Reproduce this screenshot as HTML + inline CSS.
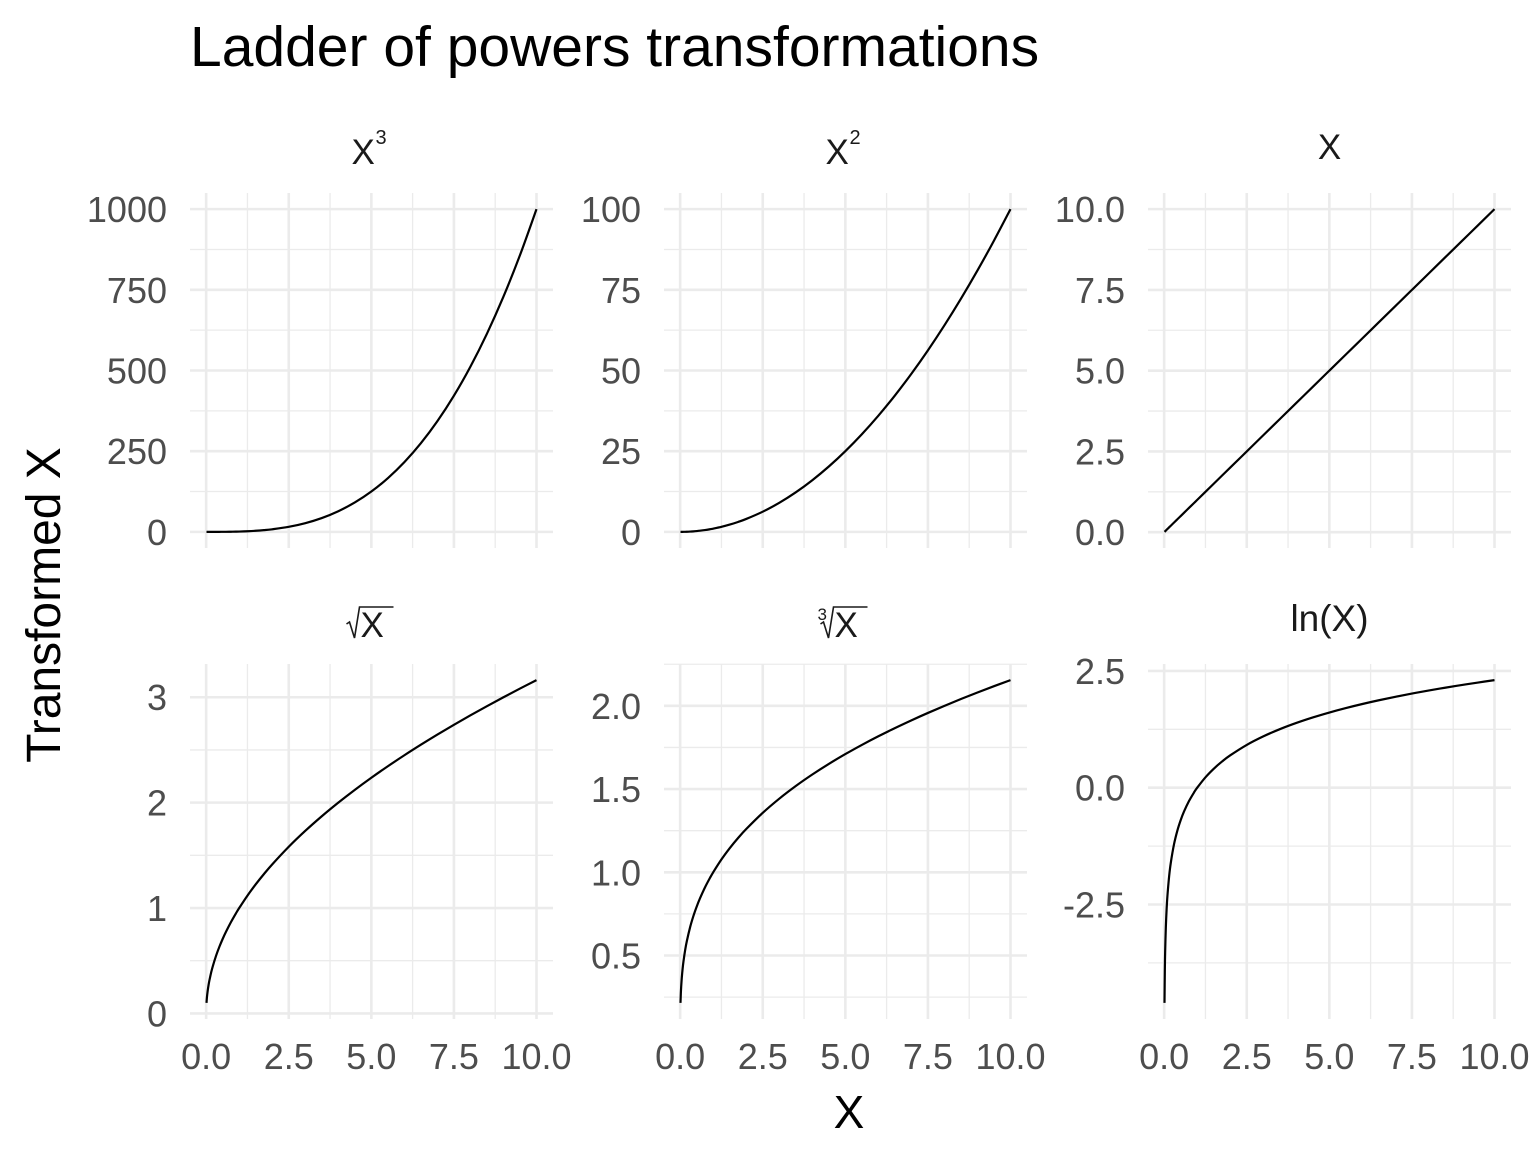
<!DOCTYPE html>
<html><head><meta charset="utf-8">
<style>
html,body{margin:0;padding:0;background:#fff;}
svg{display:block;font-family:"Liberation Sans",Arial,sans-serif;}
</style></head>
<body>
<svg id="chart" width="1536" height="1152" viewBox="0 0 1536 1152">
<text x="190" y="66" font-size="57" fill="#000">Ladder of powers transformations</text>
<text transform="translate(60,605) rotate(-90)" text-anchor="middle" font-size="48" fill="#000">Transformed X</text>
<text x="849" y="1128" text-anchor="middle" font-size="46" fill="#000">X</text>
<g id="panels"></g>
</svg>
<script>
const xVals = [0.01,0.02,0.03,0.05,0.075,0.1,0.15,0.2,0.3,0.4,0.5,0.6,0.75,0.9,1,1.25,1.5,1.75,2,2.5,3,3.5,4,4.5,5,5.5,6,6.5,7,7.5,8,8.5,9,9.5,10];
const yCube = [0.000001,0.000008,0.000027,0.000125,0.000422,0.001,0.003375,0.008,0.027,0.064,0.125,0.216,0.4219,0.729,1,1.953,3.375,5.359,8,15.625,27,42.875,64,91.125,125,166.375,216,274.625,343,421.875,512,614.125,729,857.375,1000];
const ySquare = [0.0001,0.0004,0.0009,0.0025,0.005625,0.01,0.0225,0.04,0.09,0.16,0.25,0.36,0.5625,0.81,1,1.5625,2.25,3.0625,4,6.25,9,12.25,16,20.25,25,30.25,36,42.25,49,56.25,64,72.25,81,90.25,100];
const yIdentity = [0.01,0.02,0.03,0.05,0.075,0.1,0.15,0.2,0.3,0.4,0.5,0.6,0.75,0.9,1,1.25,1.5,1.75,2,2.5,3,3.5,4,4.5,5,5.5,6,6.5,7,7.5,8,8.5,9,9.5,10];
const ySqrt = [0.1,0.1414,0.1732,0.2236,0.2739,0.3162,0.3873,0.4472,0.5477,0.6325,0.7071,0.7746,0.8660,0.9487,1,1.1180,1.2247,1.3229,1.4142,1.5811,1.7321,1.8708,2,2.1213,2.2361,2.3452,2.4495,2.5495,2.6458,2.7386,2.8284,2.9155,3,3.0822,3.1623];
const yCbrt = [0.2154,0.2714,0.3107,0.3684,0.4217,0.4642,0.5313,0.5848,0.6694,0.7368,0.7937,0.8434,0.9086,0.9655,1,1.0772,1.1447,1.2051,1.2599,1.3572,1.4422,1.5183,1.5874,1.6510,1.7100,1.7652,1.8171,1.8663,1.9129,1.9574,2,2.0408,2.0801,2.1179,2.1544];
const yLn = [-4.6052,-3.9120,-3.5066,-2.9957,-2.5903,-2.3026,-1.8971,-1.6094,-1.2040,-0.9163,-0.6931,-0.5108,-0.2877,-0.1054,0,0.2231,0.4055,0.5596,0.6931,0.9163,1.0986,1.2528,1.3863,1.5041,1.6094,1.7047,1.7918,1.8718,1.9459,2.0149,2.0794,2.1401,2.1972,2.2513,2.3026];
const xTicks = [0,2.5,5,7.5,10];
const xTickLabels = ["0.0","2.5","5.0","7.5","10.0"];
const yTicksCube = [0,250,500,750,1000];
const yTicksSquare = [0,25,50,75,100];
const yTicksIdentity = [0,2.5,5,7.5,10];
const yLabelsIdentity = ["0.0","2.5","5.0","7.5","10.0"];
const yTicksSqrt = [0,1,2,3];
const yTicksCbrt = [0.5,1,1.5,2];
const yLabelsCbrt = ["0.5","1.0","1.5","2.0"];
const yTicksLn = [-2.5,0,2.5];
const yLabelsLn = ["-2.5","0.0","2.5"];

const NS="http://www.w3.org/2000/svg";
const root=document.getElementById('panels');
function mk(tag,attrs,parent){const e=document.createElementNS(NS,tag);for(const k in attrs)e.setAttribute(k,attrs[k]);(parent||root).appendChild(e);return e;}

const panels=[
 {id:'cube',ys:yCube,ticks:yTicksCube,labels:yTicksCube.map(String),col:0,row:0,strip:'cube'},
 {id:'square',ys:ySquare,ticks:yTicksSquare,labels:yTicksSquare.map(String),col:1,row:0,strip:'square'},
 {id:'identity',ys:yIdentity,ticks:yTicksIdentity,labels:yLabelsIdentity,col:2,row:0,strip:'x'},
 {id:'sqrt',ys:ySqrt,ticks:yTicksSqrt,labels:yTicksSqrt.map(String),col:0,row:1,strip:'sqrt'},
 {id:'cbrt',ys:yCbrt,ticks:yTicksCbrt,labels:yLabelsCbrt,col:1,row:1,strip:'cbrt'},
 {id:'ln',ys:yLn,ticks:yTicksLn,labels:yLabelsLn,col:2,row:1,strip:'ln'}
];
const colLeft=[190,664,1148], pW=363;
const rowTop=[193,664], pH=355;
const TF=36;

panels.forEach(p=>{
 const L=colLeft[p.col], T=rowTop[p.row], R=L+pW, B=T+pH;
 const g=mk('g',{});
 
 
 const xmin=Math.min(...xVals), xmax=Math.max(...xVals), xe=(xmax-xmin)*0.05;
 const X0=xmin-xe, X1=xmax+xe;
 const ymin=Math.min(...p.ys), ymax=Math.max(...p.ys), ye=(ymax-ymin)*0.05;
 const Y0=ymin-ye, Y1=ymax+ye;
 const sx=v=>L+(v-X0)/(X1-X0)*pW;
 const sy=v=>B-(v-Y0)/(Y1-Y0)*pH;
 const xs=xTicks[1]-xTicks[0];
 for(let v=xTicks[0]-xs/2; v<=X1; v+=xs){ if(v>=X0){const l=mk('line',{x1:sx(v),x2:sx(v),y1:T,y2:B,stroke:'#ebebeb','stroke-width':1.3},g);}}
 const ys=p.ticks[1]-p.ticks[0];
 for(let v=p.ticks[0]-ys*10-ys/2; v<=Y1; v+=ys){ if(v>=Y0){const l=mk('line',{x1:L,x2:R,y1:sy(v),y2:sy(v),stroke:'#ebebeb','stroke-width':1.3},g);}}
 xTicks.forEach((v,i)=>{
  const l=mk('line',{x1:sx(v),x2:sx(v),y1:T,y2:B,stroke:'#ebebeb','stroke-width':2.6},g);
  
  
  if(p.row===1){const t=mk('text',{x:sx(v),y:1069,'text-anchor':'middle','font-size':TF,fill:'#4d4d4d'},g);t.textContent=xTickLabels[i];
   
   }
 });
 p.ticks.forEach((v,i)=>{
  const l=mk('line',{x1:L,x2:R,y1:sy(v),y2:sy(v),stroke:'#ebebeb','stroke-width':2.6},g);
  
  
  const t=mk('text',{x:L-23,y:sy(v)+13,'text-anchor':'end','font-size':TF,fill:'#4d4d4d'},g);t.textContent=p.labels[i];
  
  
 });
 const pts=xVals.map((x,i)=>[sx(x),sy(p.ys[i])]);
 let d='M'+pts[0][0].toFixed(2)+','+pts[0][1].toFixed(2);
 for(let i=0;i<pts.length-1;i++){
  const p0=pts[Math.max(0,i-1)],p1=pts[i],p2=pts[i+1],p3=pts[Math.min(pts.length-1,i+2)];
  const c1=[p1[0]+(p2[0]-p0[0])/6,p1[1]+(p2[1]-p0[1])/6];
  const c2=[p2[0]-(p3[0]-p1[0])/6,p2[1]-(p3[1]-p1[1])/6];
  d+=`C${c1[0].toFixed(2)},${c1[1].toFixed(2)} ${c2[0].toFixed(2)},${c2[1].toFixed(2)} ${p2[0].toFixed(2)},${p2[1].toFixed(2)}`;
 }
 const path=mk('path',{d:d,fill:'none',stroke:'#000','stroke-width':2.2},g);
 
 
 const cx=L+pW/2, by=p.row===0?164:636;
 const st=mk('g',{},g);
 
 
 if(p.strip==='cube'||p.strip==='square'){
  const t=mk('text',{x:cx-20,y:by,'font-size':35,fill:'#1a1a1a'},st);t.textContent='X';
  const s=mk('text',{x:cx+4,y:by-20,'font-size':20,fill:'#1a1a1a'},st);s.textContent=p.strip==='cube'?'3':'2';
 } else if(p.strip==='x'){
  const t=mk('text',{x:cx,y:by-5,'text-anchor':'middle','font-size':35,fill:'#1a1a1a'},st);t.textContent='X';
 } else if(p.strip==='ln'){
  const t=mk('text',{x:cx,y:by-5,'text-anchor':'middle','font-size':37,fill:'#1a1a1a'},st);t.textContent='ln(X)';
 } else {
  const x0=cx-24;
  if(p.strip==='cbrt'){const s=mk('text',{x:x0-4,y:by-16,'font-size':17,fill:'#1a1a1a'},st);s.textContent='3';}
  mk('path',{d:`M${x0-1},${by-12} L${x0+2},${by-14} L${x0+7},${by+2} L${x0+12},${by-29} L${x0+46},${by-29}`,fill:'none',stroke:'#1a1a1a','stroke-width':1.6},st);
  const t=mk('text',{x:x0+13,y:by+1,'font-size':35,fill:'#1a1a1a'},st);t.textContent='X';
 }
});
</script>
</body></html>
